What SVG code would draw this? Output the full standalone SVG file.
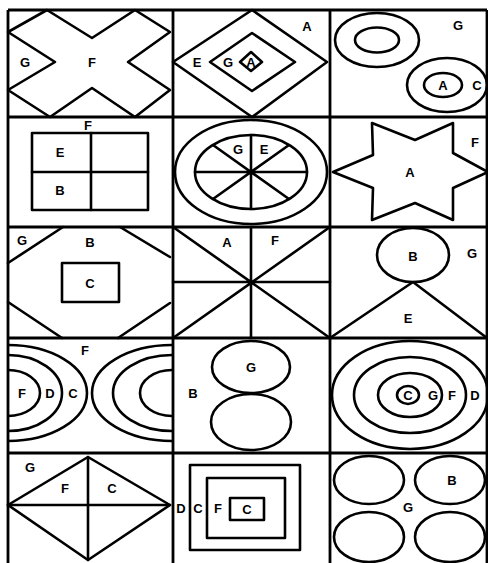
<svg xmlns="http://www.w3.org/2000/svg" width="488" height="563" viewBox="0 0 488 563">
<style>
.s{fill:none;stroke:#000;stroke-width:2.6;stroke-linejoin:round;stroke-linecap:round}
.g{fill:none;stroke:#000;stroke-width:2.8}
text{font-family:"Liberation Sans",Arial,sans-serif;font-weight:bold;font-size:13px;text-anchor:middle;dominant-baseline:central;fill:#000}
</style>
<defs>
<clipPath id="c41"><rect x="8" y="338" width="165" height="115"/></clipPath>
</defs>
<rect width="488" height="563" fill="#fff"/>
<g id="grid">
<path class="g" d="M8 10H487M8 117H487M8 227H487M8 338H487M8 453H487M8 10V563M173 10V563M330 10V563M487 10V563"/>
</g>
<g id="r1c1">
<path class="s" d="M47 10L92 38L135 10L170 32L128 62L170 90L135 117L92 88L50 117L8 90L55 62L8 32Z"/>
<text x="25" y="62">G</text><text x="92" y="62">F</text>
</g>
<g id="r1c2">
<path class="s" d="M173 62L252 10L327 62L252 117Z"/>
<path class="s" d="M210 62L252 33L295 62L252 91Z"/>
<path class="s" d="M240 62L251 52L262 62L251 71Z"/>
<text x="197" y="62">E</text><text x="228" y="62">G</text><text x="251" y="62" font-size="10">A</text><text x="307" y="26">A</text>
</g>
<g id="r1c3">
<ellipse class="s" cx="377" cy="40" rx="42" ry="27"/>
<ellipse class="s" cx="377" cy="40" rx="22" ry="12.5"/>
<ellipse class="s" cx="447" cy="85" rx="40" ry="27"/>
<ellipse class="s" cx="443" cy="85" rx="19" ry="12"/>
<text x="458" y="25">G</text><text x="443" y="85">A</text><text x="477" y="85">C</text>
</g>
<g id="r2c1">
<rect class="s" x="32" y="133" width="116" height="77"/>
<path class="s" d="M91 133V210M32 172H148"/>
<text x="88" y="125">F</text><text x="60" y="152">E</text><text x="60" y="190">B</text>
</g>
<g id="r2c2">
<ellipse class="s" cx="251" cy="172" rx="76" ry="52"/>
<ellipse class="s" cx="251" cy="172" rx="56" ry="37"/>
<path class="s" d="M251 135V209M195 172H307M213 145L289 199M289 145L213 199"/>
<text x="238" y="149">G</text><text x="264" y="149">E</text>
</g>
<g id="r2c3">
<path class="s" d="M372 123L415 140L453 123L453 153L488 172L453 188L453 220L415 203L372 220L373 188L333 172L373 155Z"/>
<text x="410" y="172">A</text><text x="475" y="142">F</text>
</g>
<g id="r3c1">
<path class="s" d="M63 227L8 263M120 227L170 257M8 302L62 338M170 303L118 338"/>
<rect class="s" x="62" y="263" width="57" height="39"/>
<text x="22" y="240">G</text><text x="90" y="242">B</text><text x="90" y="283">C</text>
</g>
<g id="r3c2">
<path class="s" d="M173 227L330 338M330 227L173 338M173 282H330M251 227V338"/>
<text x="227" y="242">A</text><text x="275" y="240">F</text>
</g>
<g id="r3c3">
<ellipse class="s" cx="413" cy="255" rx="36" ry="27"/>
<path class="s" d="M330 338L413 282L487 338"/>
<text x="413" y="256">B</text><text x="472" y="253">G</text><text x="408" y="318">E</text>
</g>
<g id="r4c1">
<g clip-path="url(#c41)">
<ellipse class="s" cx="8" cy="393" rx="79" ry="48"/>
<ellipse class="s" cx="8" cy="393" rx="54" ry="38"/>
<ellipse class="s" cx="8" cy="393" rx="32" ry="23"/>
<ellipse class="s" cx="172" cy="393" rx="80" ry="48"/>
<ellipse class="s" cx="172" cy="393" rx="59" ry="38"/>
<ellipse class="s" cx="172" cy="393" rx="32" ry="23"/>
</g>
<text x="85" y="350">F</text><text x="22" y="393">F</text><text x="50" y="393">D</text><text x="73" y="393">C</text>
</g>
<g id="r4c2">
<ellipse class="s" cx="251" cy="367" rx="39" ry="26"/>
<ellipse class="s" cx="251" cy="422" rx="40" ry="28"/>
<text x="251" y="367">G</text><text x="193" y="393">B</text>
</g>
<g id="r4c3">
<ellipse class="s" cx="410" cy="395" rx="78" ry="54"/>
<ellipse class="s" cx="410" cy="395" rx="56" ry="38"/>
<ellipse class="s" cx="410" cy="395" rx="32" ry="22"/>
<ellipse class="s" cx="408" cy="395" rx="11" ry="9"/>
<text x="408" y="395">C</text><text x="433" y="395">G</text><text x="452" y="395">F</text><text x="475" y="395">D</text>
</g>
<g id="r5c1">
<path class="s" d="M8 505L88 457L170 505L88 560Z"/>
<path class="s" d="M8 505H170M88 457V560"/>
<text x="30" y="467">G</text><text x="65" y="488">F</text><text x="112" y="488">C</text>
</g>
<g id="r5c2">
<rect class="s" x="190" y="465" width="110" height="85"/>
<rect class="s" x="207" y="478" width="78" height="60"/>
<rect class="s" x="230" y="498" width="34" height="22"/>
<text x="181" y="508">D</text><text x="198" y="508">C</text><text x="218" y="508">F</text><text x="247" y="509">C</text>
</g>
<g id="r5c3">
<ellipse class="s" cx="369" cy="480" rx="35" ry="24"/>
<ellipse class="s" cx="450" cy="480" rx="35" ry="24"/>
<ellipse class="s" cx="369" cy="537" rx="35" ry="25"/>
<ellipse class="s" cx="450" cy="537" rx="35" ry="25"/>
<text x="452" y="480">B</text><text x="408" y="507">G</text>
</g>
</svg>
